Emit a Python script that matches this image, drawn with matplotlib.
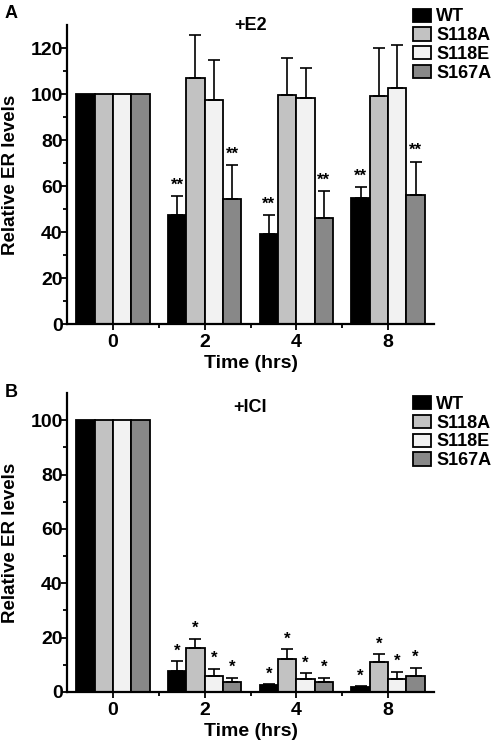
import numpy as np
import matplotlib
matplotlib.use("Agg")
import matplotlib.pyplot as plt

plt.rcParams['font.family'] = ['Liberation Sans', 'DejaVu Sans']
plt.rcParams['font.weight'] = 'bold'

times = ['0', '2', '4', '8']
strains = ['WT', 'S118A', 'S118E', 'S167A']
colors = ['#000000', '#c2c2c2', '#f2f2f2', '#888888']

# panel A (+E2)
e2_wt = [100, 47.2, 39.1, 54.8]
e2_s118a = [100, 107.0, 99.7, 99.1]
e2_s118e = [100, 97.5, 98.1, 102.6]
e2_s167a = [100, 54.4, 45.9, 56.3]
e2_wt_err = [0, 8.3, 8.3, 4.8]
e2_s118a_err = [0, 18.6, 15.9, 20.7]
e2_s118e_err = [0, 17.2, 13.4, 18.6]
e2_s167a_err = [0, 14.6, 11.9, 14.3]
e2_stars = ['**', '', '', '**']

# panel B (+ICI)
ici_wt = [100, 7.9, 2.5, 1.8]
ici_s118a = [100, 16.1, 12.2, 10.9]
ici_s118e = [100, 5.8, 4.9, 4.9]
ici_s167a = [100, 3.6, 3.7, 5.9]
ici_wt_err = [0, 3.4, 0.3, 0.3]
ici_s118a_err = [0, 3.5, 3.5, 2.9]
ici_s118e_err = [0, 2.8, 2.0, 2.5]
ici_s167a_err = [0, 1.6, 1.6, 3.1]
ici_stars = ['*', '*', '*', '*']


def draw_panel(ax, vals, errs, stars, ymax, title, title_y, star_gap):
    x = np.arange(len(times))
    w = 0.2
    for i, (v, e) in enumerate(zip(vals, errs)):
        pos = x - 0.3 + i * w
        ax.bar(pos, v, width=w, color=colors[i], edgecolor='black',
               linewidth=1.3, label=strains[i], zorder=2)
        ax.errorbar(pos[1:], v[1:], yerr=[np.zeros(3), e[1:]], fmt='none',
                    ecolor='black', elinewidth=1.2, capsize=4.5, capthick=1.2,
                    zorder=3)
        if stars[i]:
            for p, vv, ee in zip(pos[1:], v[1:], e[1:]):
                ax.text(p, vv + ee + star_gap, stars[i], ha='center',
                        va='bottom', fontsize=12, fontweight='bold')
    ax.set_xlim(-0.5, 3.5)
    ax.set_ylim(0, ymax)
    ax.set_xticks(x)
    ax.set_xticklabels(times, fontsize=14, fontweight='bold')
    ax.set_xticks([0.5, 1.5, 2.5], minor=True)
    ax.set_yticks(np.arange(0, ymax, 20))
    ax.set_yticks(np.arange(10, ymax, 20), minor=True)
    ax.tick_params(axis='y', labelsize=14, direction='out', length=4, width=1.3, pad=-1)
    ax.tick_params(axis='x', direction='out', length=4, width=1.3, pad=3)
    ax.tick_params(which='minor', length=3, width=1.3)
    for lab in ax.get_yticklabels():
        lab.set_fontweight('bold')
    ax.spines['top'].set_visible(False)
    ax.spines['right'].set_visible(False)
    ax.spines['left'].set_linewidth(1.6)
    ax.spines['bottom'].set_linewidth(1.6)
    ax.set_xlabel('Time (hrs)', fontsize=14, fontweight='bold', labelpad=3)
    ax.set_ylabel('Relative ER levels', fontsize=13.5, fontweight='bold', labelpad=8)
    ax.text(0.5, title_y, title, transform=ax.transAxes, ha='center', va='center',
            fontsize=13, fontweight='bold')


fig = plt.figure(figsize=(5, 7.42), dpi=100)
axA = fig.add_axes([0.134, 0.5633, 0.734, 0.403])
axB = fig.add_axes([0.134, 0.0674, 0.734, 0.403])

draw_panel(axA, [e2_wt, e2_s118a, e2_s118e, e2_s167a],
           [e2_wt_err, e2_s118a_err, e2_s118e_err, e2_s167a_err],
           e2_stars, 130, '+E2', 1.0, 1.5)
draw_panel(axB, [ici_wt, ici_s118a, ici_s118e, ici_s167a],
           [ici_wt_err, ici_s118a_err, ici_s118e_err, ici_s167a_err],
           ici_stars, 110, '+ICI', 0.95, 1.0)

for ax, ytop in [(axA, 0.991), (axB, 0.469)]:
    h, l = ax.get_legend_handles_labels()
    fig.legend(h, l, loc='upper left', bbox_to_anchor=(0.822, ytop),
               frameon=False, prop={'weight': 'bold', 'size': 13},
               handlelength=1.0, handleheight=0.75, handletextpad=0.3,
               labelspacing=0.1, borderpad=0.1, borderaxespad=0)

fig.text(0.01, 0.993, 'A', fontsize=13, fontweight='bold', va='top')
fig.text(0.01, 0.483, 'B', fontsize=13, fontweight='bold', va='top')

fig.savefig('out.png', dpi=100)
